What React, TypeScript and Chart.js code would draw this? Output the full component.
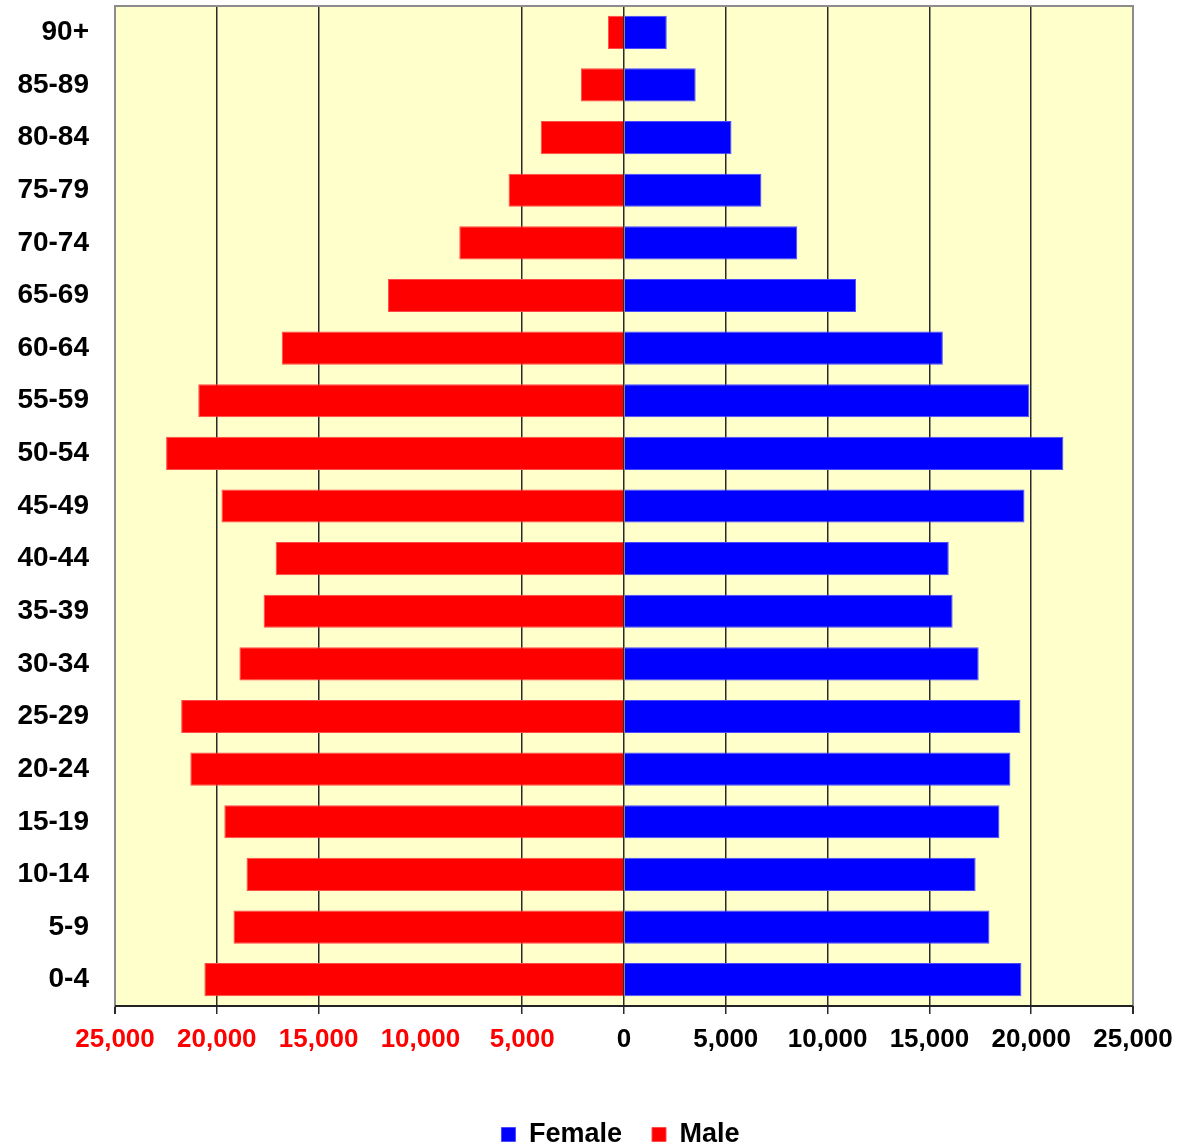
import React, { useEffect, useRef } from "react";
import { Chart, registerables } from "chart.js";

Chart.register(...registerables);

const ageGroups = [
  "90+", "85-89", "80-84", "75-79", "70-74", "65-69", "60-64", "55-59", "50-54", "45-49",
  "40-44", "35-39", "30-34", "25-29", "20-24", "15-19", "10-14", "5-9", "0-4",
];

const femaleValues = [
  2100, 3520, 5280, 6750, 8510, 11400, 15660, 19910, 21580, 19670,
  15950, 16140, 17420, 19470, 18980, 18440, 17270, 17950, 19520,
];

const maleValues = [
  790, 2120, 4090, 5670, 8090, 11590, 16810, 20910, 22490, 19770,
  17110, 17700, 18890, 21750, 21300, 19630, 18540, 19180, 20610,
];

const xTickValues = [-25000, -20000, -15000, -10000, -5000, 0, 5000, 10000, 15000, 20000, 25000];

const FONT = "'Liberation Sans', Arial, sans-serif";

const frame = {
  id: "frame",
  afterLayout(chart: any) {
    if (chart.legend) {
      chart.legend.left = 108;
    }
  },
  beforeDraw(chart: any) {
    const { ctx, chartArea } = chart;
    ctx.save();
    ctx.fillStyle = "#FFFFCC";
    ctx.fillRect(chartArea.left, chartArea.top, chartArea.right - chartArea.left, chartArea.bottom - chartArea.top);
    ctx.restore();
  },
  afterDraw(chart: any) {
    const { ctx, chartArea } = chart;
    ctx.save();
    ctx.strokeStyle = "#8c8c8c";
    ctx.lineWidth = 2;
    ctx.beginPath();
    ctx.moveTo(chartArea.left, chartArea.bottom);
    ctx.lineTo(chartArea.left, chartArea.top);
    ctx.lineTo(chartArea.right, chartArea.top);
    ctx.lineTo(chartArea.right, chartArea.bottom);
    ctx.stroke();
    ctx.strokeStyle = "#222";
    ctx.beginPath();
    ctx.moveTo(chartArea.left, chartArea.bottom);
    ctx.lineTo(chartArea.right, chartArea.bottom);
    ctx.stroke();
    ctx.restore();
  },
};

export default function App() {
  const ref = useRef<HTMLCanvasElement>(null);

  useEffect(() => {
    document.body.style.margin = "0";
    const chart = new Chart(ref.current as HTMLCanvasElement, {
      type: "bar",
      data: {
        labels: ageGroups,
        datasets: [
          {
            label: "Female",
            data: femaleValues,
            backgroundColor: "#0000FF",
            borderColor: "#4a4aff",
            borderWidth: 1,
            barPercentage: 0.63,
            categoryPercentage: 1,
          },
          {
            label: "Male",
            data: maleValues.map((v) => -v),
            backgroundColor: "#FF0000",
            borderColor: "#ff4a4a",
            borderWidth: 1,
            barPercentage: 0.63,
            categoryPercentage: 1,
          },
        ],
      },
      options: {
        indexAxis: "y",
        responsive: false,
        animation: false,
        layout: { padding: { top: 6, right: 47, bottom: -10, left: 0 } },
        plugins: {
          tooltip: { enabled: false },
          legend: {
            position: "bottom",
            labels: {
              boxWidth: 14,
              boxHeight: 14,
              padding: 30,
              color: "#000",
              font: { family: FONT, size: 27, weight: "bold" },
            },
          },
        },
        scales: {
          x: {
            stacked: true,
            min: -25000,
            max: 25000,
            afterBuildTicks: (scale: any) => {
              scale.ticks = xTickValues.map((v) => ({ value: v }));
            },
            afterFit: (scale: any) => {
              scale.height = 85;
              scale.paddingLeft = 0;
              scale.paddingRight = 0;
            },
            border: { display: false },
            grid: {
              drawTicks: true,
              tickLength: 8,
              color: (ctx: any) => {
                const v = ctx.tick ? ctx.tick.value : 0;
                if (v === -10000) return "rgba(0,0,0,0)";
                if (Math.abs(v) === 25000) return "#8c8c8c";
                return "#2a2a2a";
              },
              tickColor: (ctx: any) => {
                const v = ctx.tick ? ctx.tick.value : 0;
                if (v === -10000) return "rgba(0,0,0,0)";
                return "#2a2a2a";
              },
              lineWidth: (ctx: any) => {
                const v = ctx.tick ? ctx.tick.value : 0;
                return Math.abs(v) === 25000 ? 2 : 1.5;
              },
            },
            ticks: {
              autoSkip: false,
              maxRotation: 0,
              padding: 10,
              color: (ctx: any) => (ctx.tick && ctx.tick.value < 0 ? "#FF0000" : "#000"),
              font: { family: FONT, size: 26, weight: "bold" },
              callback: (value: any) => Math.abs(Number(value)).toLocaleString("en-US"),
            },
          },
          y: {
            stacked: true,
            afterFit: (scale: any) => {
              scale.width = 115;
              scale.paddingTop = 0;
              scale.paddingBottom = 0;
            },
            grid: { display: false, drawTicks: false },
            border: { display: true, color: "#8c8c8c", width: 2 },
            ticks: {
              padding: 26,
              color: "#000",
              font: { family: FONT, size: 28, weight: "bold" },
            },
          },
        },
      },
      plugins: [frame],
    } as any);
    return () => chart.destroy();
  }, []);

  return (
    <div style={{ width: 1180, height: 1148 }}>
      <canvas ref={ref} width={1180} height={1148} style={{ display: "block" }} />
    </div>
  );
}
